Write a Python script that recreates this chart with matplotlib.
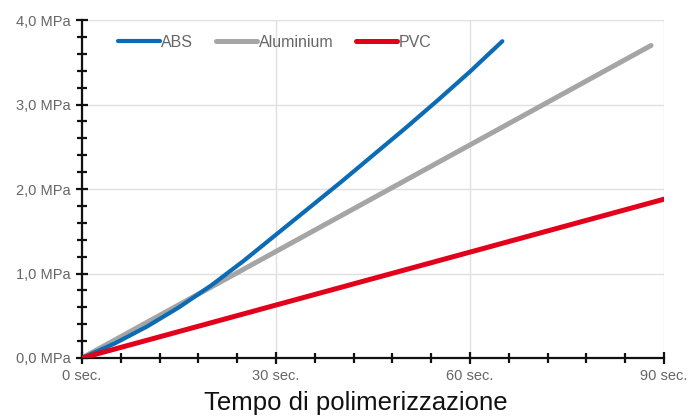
import numpy as np
import matplotlib
matplotlib.use('Agg')
import matplotlib.pyplot as plt
from matplotlib.ticker import MultipleLocator, FuncFormatter

plt.rcParams['font.family'] = ['Liberation Sans', 'DejaVu Sans']

# Values (time in sec, pressure in MPa)
abs_t = [0, 5, 10, 15, 20, 25, 30, 35, 40, 45, 50, 55, 60, 65]
abs_p = [0, 0.17, 0.37, 0.60, 0.86, 1.15, 1.46, 1.77, 2.08, 2.40, 2.72, 3.05, 3.39, 3.75]
alu_t = [0, 88]
alu_p = [0, 3.70]
pvc_t = [0, 90]
pvc_p = [0, 1.88]

fig = plt.figure(figsize=(6.89, 4.19), dpi=100)
ax = fig.add_axes([0.119, 0.1456, 0.8447, 0.8064])

ax.plot(abs_t, abs_p, color='#0b6cb5', lw=3.0, solid_capstyle='round', label='ABS', zorder=3)
ax.plot(alu_t, alu_p, color='#a5a5a5', lw=3.6, solid_capstyle='round', label='Aluminium', zorder=2)
ax.plot(pvc_t, pvc_p, color='#e2001a', lw=3.6, solid_capstyle='round', label='PVC', zorder=4)

ax.set_xlim(0, 90)
ax.set_ylim(0, 4)
ax.xaxis.set_major_locator(MultipleLocator(30))
ax.xaxis.set_minor_locator(MultipleLocator(6))
ax.yaxis.set_major_locator(MultipleLocator(1))
ax.yaxis.set_minor_locator(MultipleLocator(0.2))
ax.xaxis.set_major_formatter(FuncFormatter(lambda v, p: f'{v:.0f} sec.'))
ax.yaxis.set_major_formatter(FuncFormatter(lambda v, p: f'{v:.1f}'.replace('.', ',') + ' MPa'))

ax.grid(True, which='major', color='#e0e0e0', lw=1.0, zorder=0)
ax.set_axisbelow(True)
for s in ['top', 'right']:
    ax.spines[s].set_visible(False)
for s in ['left', 'bottom']:
    ax.spines[s].set_linewidth(1.6)
    ax.spines[s].set_color('#111111')

ax.tick_params(which='both', direction='inout', width=1.6, color='#111111')
ax.tick_params(which='major', length=8, labelsize=10.5, labelcolor='#666666', pad=4)
ax.tick_params(which='minor', length=7)

leg = ax.legend(loc='center left', bbox_to_anchor=(0.062, 0.935), ncol=3, frameon=False,
                fontsize=11.5, handlelength=2.6, handletextpad=0.1, columnspacing=1.4,
                borderpad=0, borderaxespad=0)
for t in leg.get_texts():
    t.set_color('#666666')

fig.text(356 / 689, 1 - 403 / 419, 'Tempo di polimerizzazione', ha='center', va='center',
         fontsize=18.5, color='#111111')

fig.savefig('out.png', dpi=100)
